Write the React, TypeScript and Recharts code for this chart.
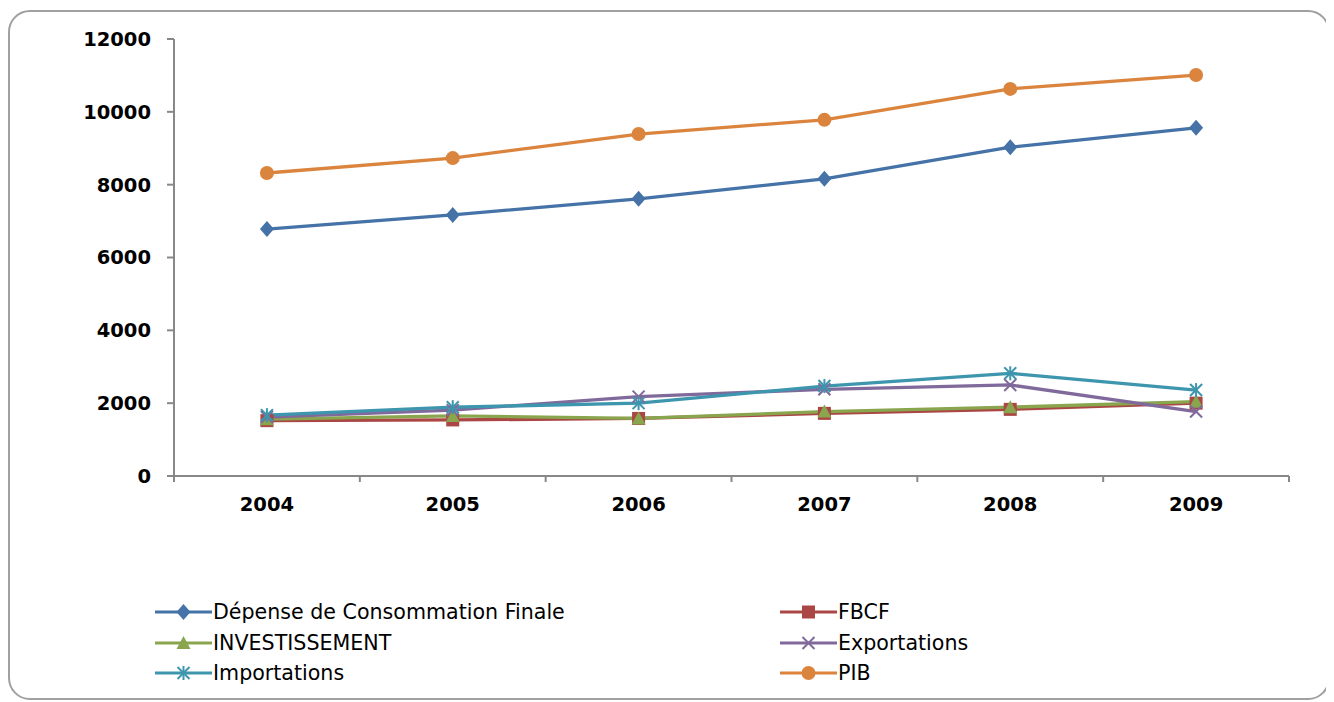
import React from "react";
import { LineChart, Line, XAxis, YAxis, Legend } from "recharts";

// categories and series values
const YEARS = ["2004", "2005", "2006", "2007", "2008", "2009"];
const DEPENSE = [6780, 7170, 7610, 8160, 9030, 9560];
const FBCF = [1520, 1540, 1580, 1720, 1830, 2000];
const INVEST = [1560, 1650, 1580, 1770, 1890, 2040];
const EXPORTS = [1620, 1810, 2180, 2380, 2500, 1770];
const IMPORTS = [1670, 1890, 2000, 2470, 2820, 2360];
const PIB = [8320, 8730, 9390, 9780, 10630, 11010];
const Y_TICKS = [0, 2000, 4000, 6000, 8000, 10000, 12000];

const SERIES = [
  { key: "dcf", name: "Dépense de Consommation Finale", values: DEPENSE, color: "#4572A7", shape: "diamond" },
  { key: "fbcf", name: "FBCF", values: FBCF, color: "#AA4643", shape: "square" },
  { key: "invest", name: "INVESTISSEMENT", values: INVEST, color: "#89A54E", shape: "triangle" },
  { key: "exp", name: "Exportations", values: EXPORTS, color: "#80699B", shape: "cross" },
  { key: "imp", name: "Importations", values: IMPORTS, color: "#3D96AE", shape: "star" },
  { key: "pib", name: "PIB", values: PIB, color: "#DB843D", shape: "circle" },
];

const data = YEARS.map((year, i) => {
  const row: any = { year };
  SERIES.forEach((s) => (row[s.key] = s.values[i]));
  return row;
});

const FONT = "'DejaVu Sans', sans-serif";
const AXIS = "#888888";
const W = 1318;
const H = 686;
const MARGIN = { top: 27, right: 39, left: 0, bottom: 182 };
const Y_AXIS_W = 164;
const X_AXIS_H = 40;
const PLOT_W = W - MARGIN.left - MARGIN.right - Y_AXIS_W;
const PLOT_BOTTOM = H - MARGIN.bottom - X_AXIS_H;
const BAND = PLOT_W / YEARS.length;

function Marker({ shape, cx, cy, color }: any) {
  if (cx == null || cy == null) return null;
  switch (shape) {
    case "diamond":
      return <polygon points={`${cx},${cy - 8} ${cx + 7},${cy} ${cx},${cy + 8} ${cx - 7},${cy}`} fill={color} />;
    case "square":
      return <rect x={cx - 6.5} y={cy - 6.5} width={13} height={13} fill={color} />;
    case "triangle":
      return <polygon points={`${cx},${cy - 7} ${cx + 7},${cy + 6} ${cx - 7},${cy + 6}`} fill={color} />;
    case "cross":
      return (
        <g stroke={color} strokeWidth={2}>
          <line x1={cx - 6} y1={cy - 6} x2={cx + 6} y2={cy + 6} />
          <line x1={cx - 6} y1={cy + 6} x2={cx + 6} y2={cy - 6} />
        </g>
      );
    case "star":
      return (
        <g stroke={color} strokeWidth={2}>
          <line x1={cx - 6} y1={cy - 6} x2={cx + 6} y2={cy + 6} />
          <line x1={cx - 6} y1={cy + 6} x2={cx + 6} y2={cy - 6} />
          <line x1={cx} y1={cy - 7} x2={cx} y2={cy + 7} />
        </g>
      );
    default:
      return <circle cx={cx} cy={cy} r={7} fill={color} />;
  }
}

// year labels with tick marks between the categories (Excel style)
function YearTick(props: any) {
  const { x, y, payload, index } = props;
  const edge = (px: number) => (
    <line x1={px} x2={px} y1={PLOT_BOTTOM} y2={PLOT_BOTTOM + 6} stroke={AXIS} strokeWidth={2} />
  );
  return (
    <g>
      {edge(x - BAND / 2)}
      {index === YEARS.length - 1 && edge(x + BAND / 2)}
      <text x={x} y={y} dy="0.71em" textAnchor="middle" fill="#000" fontFamily={FONT} fontSize={19.5} fontWeight="bold">
        {payload.value}
      </text>
    </g>
  );
}

const renderLegend = () => (
  <div style={{ display: "grid", gridTemplateColumns: "625px 560px", fontFamily: FONT, fontSize: 20.6, color: "#000" }}>
    {SERIES.map((s) => (
      <div key={s.key} style={{ display: "flex", alignItems: "center", height: 30.5 }}>
        <svg width={57} height={20}>
          <line x1={0} y1={10} x2={57} y2={10} stroke={s.color} strokeWidth={3} />
          <Marker shape={s.shape} cx={28.5} cy={10} color={s.color} />
        </svg>
        <span style={{ marginLeft: 1 }}>{s.name}</span>
      </div>
    ))}
  </div>
);

export default function App() {
  return (
    <div
      style={{
        position: "relative",
        marginTop: 2,
        width: W,
        height: H,
        border: "2px solid #a0a0a0",
        borderRadius: 22,
        background: "#fff",
      }}
    >
      <LineChart width={W} height={H} data={data} margin={MARGIN}>
        <XAxis
          dataKey="year"
          scale="band"
          height={X_AXIS_H}
          axisLine={{ stroke: AXIS, strokeWidth: 2 }}
          tickLine={false}
          tickSize={6}
          tickMargin={15}
          tick={<YearTick />}
          interval={0}
        />
        <YAxis
          width={Y_AXIS_W}
          domain={[0, 12000]}
          ticks={Y_TICKS}
          interval={0}
          axisLine={{ stroke: AXIS, strokeWidth: 2 }}
          tickLine={{ stroke: AXIS, strokeWidth: 2 }}
          tickSize={7}
          tickMargin={16}
          tick={{ fill: "#000", fontFamily: FONT, fontSize: 19.5, fontWeight: "bold" }}
        />
        <Legend
          layout="horizontal"
          verticalAlign="middle"
          align="center"
          content={renderLegend}
          wrapperStyle={{ top: 585, left: 145, width: "auto" }}
        />
        {SERIES.map((s) => (
          <Line
            key={s.key}
            dataKey={s.key}
            name={s.name}
            type="linear"
            stroke={s.color}
            strokeWidth={3.3}
            isAnimationActive={false}
            dot={(p: any) => <Marker key={`${s.key}-${p.index}`} shape={s.shape} cx={p.cx} cy={p.cy} color={s.color} />}
            activeDot={false}
          />
        ))}
      </LineChart>
    </div>
  );
}
